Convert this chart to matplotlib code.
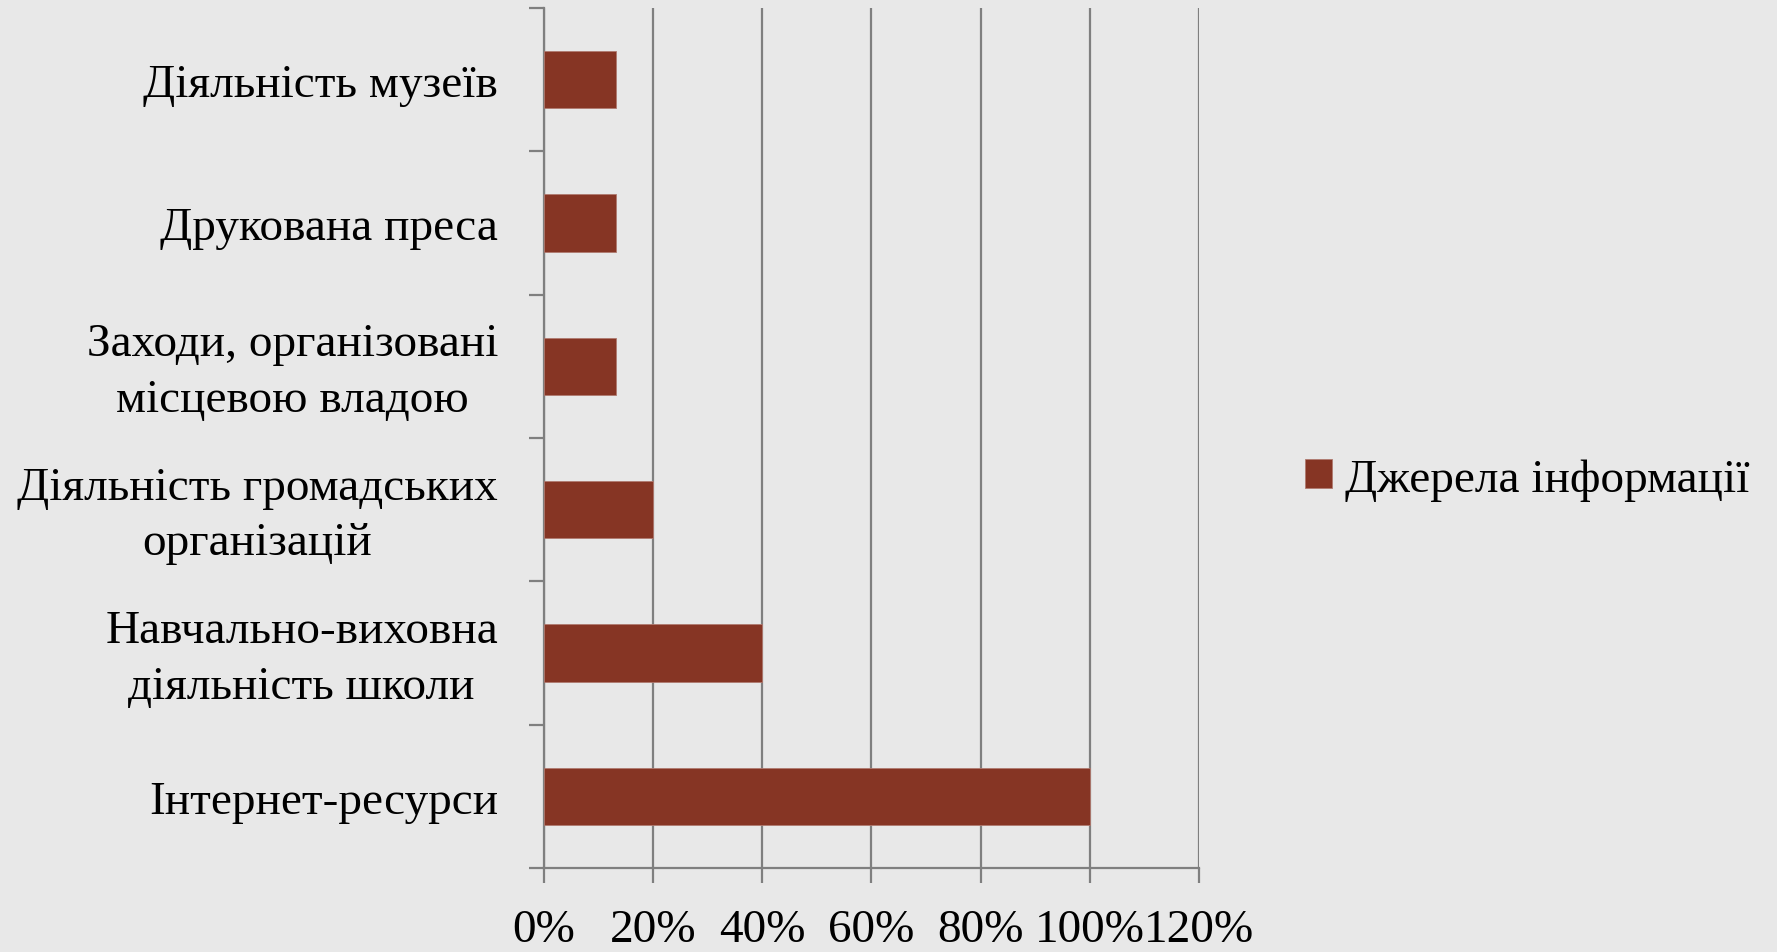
import matplotlib
matplotlib.use("Agg")
import matplotlib.pyplot as plt
from matplotlib.ticker import FuncFormatter
from matplotlib.transforms import ScaledTranslation

categories = [
    "Інтернет-ресурси",
    "Навчально-виховна\nдіяльність школи",
    "Діяльність громадських\nорганізацій",
    "Заходи, організовані\nмісцевою владою",
    "Друкована преса",
    "Діяльність музеїв",
]
values = [100, 40, 20, 13.3, 13.3, 13.3]
series_name = "Джерела інформації"
x_ticks = [0, 20, 40, 60, 80, 100, 120]

bg = "#e8e8e8"
bar_color = "#863524"
grid_color = "#7f7f7f"

plt.rcParams['font.family'] = ['Liberation Serif', 'DejaVu Serif']

fig = plt.figure(figsize=(17.77, 9.53), dpi=100, facecolor=bg)
ax = fig.add_axes([0.306, 0.0881, 0.6747 - 0.306, 0.9906 - 0.0881])
ax.set_facecolor(bg)

y = list(range(len(categories)))
ax.barh(y, values, height=0.4, color=bar_color, edgecolor="#b07a70", linewidth=0.6,
        label=series_name, zorder=3)

ax.set_xlim(0, 120)
ax.set_ylim(-0.5, len(categories) - 0.5)
ax.set_xticks(x_ticks)
ax.xaxis.set_major_formatter(FuncFormatter(lambda v, p: f"{int(v)}%"))
ax.set_yticks([i - 0.5 for i in range(len(categories) + 1)], minor=False)
ax.set_yticklabels([])
ax.set_yticks(y, minor=True)
ax.set_yticklabels(categories, minor=True, fontsize=34, multialignment="center",
                   linespacing=1.4)

ax.grid(axis="x", color=grid_color, linewidth=1.6, zorder=0)
for s in ["top", "right"]:
    ax.spines[s].set_visible(False)
for s in ["left", "bottom"]:
    ax.spines[s].set_color(grid_color)
    ax.spines[s].set_linewidth(1.6)

ax.tick_params(axis="x", which="major", length=11, width=1.6, color=grid_color,
               labelsize=34, pad=18)
ax.tick_params(axis="y", which="major", length=11, width=1.6, color=grid_color)
ax.tick_params(axis="y", which="minor", length=0, pad=33)

shift = ScaledTranslation(0, 6 / 100, fig.dpi_scale_trans)
for lab in ax.get_yticklabels(minor=True):
    if "\n" in lab.get_text():
        lab.set_transform(lab.get_transform() + shift)

leg = ax.legend(loc="center left", bbox_to_anchor=(1.162, 0.452), frameon=False,
                fontsize=34, handlelength=0.57, handleheight=0.57, handletextpad=0.28,
                borderaxespad=0, borderpad=0)

fig.savefig("out.png", dpi=100, facecolor=bg)
